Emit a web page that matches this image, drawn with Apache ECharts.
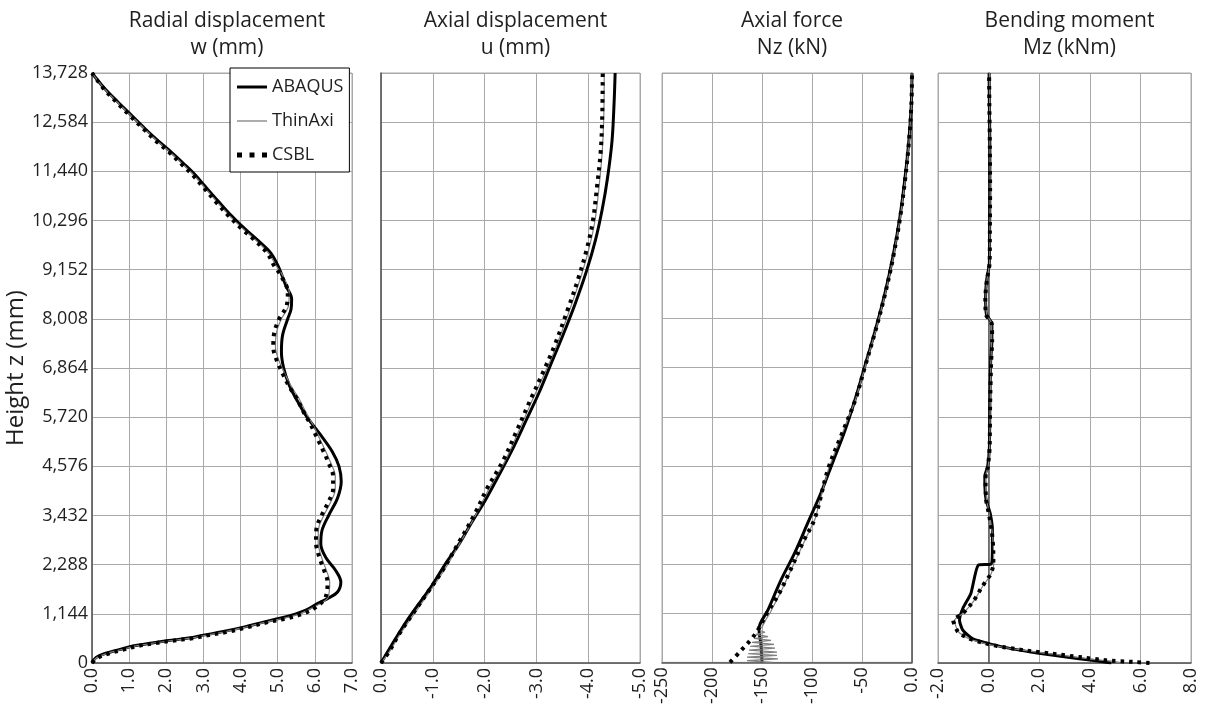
<!DOCTYPE html>
<html>
<head>
<meta charset="utf-8">
<script src="https://cdn.jsdelivr.net/npm/echarts@6/dist/echarts.min.js"></script>
<style>
html,body{margin:0;padding:0;background:#fff;}
#chart{width:1211px;height:707px;}
</style>
</head>
<body>
<div id="chart"></div>
<script>
// ---------- DATA (value, height z in mm) ----------
const seriesNames = ['ABAQUS', 'ThinAxi', 'CSBL'];
const panelTitles = ['Radial displacement\nw (mm)', 'Axial displacement\nu (mm)', 'Axial force\nNz (kN)', 'Bending moment\nMz (kNm)'];
const zTickStep = 1144;
const zMax = 13728;

// Radial displacement w (mm)
const wAbaqus = [[0,0],[0.11,130],[0.37,226],[0.73,311],[1.1,395],[1.62,467],[2.06,521],[2.6,580],[3.04,654],[3.5,725],[4.11,840],[4.64,957],[5.06,1040],[5.49,1144],[5.76,1229],[6.07,1383],[6.34,1498],[6.61,1652],[6.70,1884],[6.56,2153],[6.29,2461],[6.16,2768],[6.19,3077],[6.37,3432],[6.61,3836],[6.71,4221],[6.65,4576],[6.47,4917],[6.16,5302],[5.79,5720],[5.54,6082],[5.31,6467],[5.16,6864],[5.10,7238],[5.13,7623],[5.27,8008],[5.36,8239],[5.375,8470],[5.22,8778],[5.03,9200],[4.82,9533],[4.46,9838],[4.11,10106],[3.75,10411],[3.39,10754],[3.04,11097],[2.77,11364],[2.5,11593],[2.14,11882],[1.79,12142],[1.43,12431],[1.07,12737],[0.71,13042],[0.36,13347],[0,13728]];
const wThinAxi = [[0,0],[0.13,125],[0.41,223],[0.78,308],[1.15,392],[1.67,465],[2.1,518],[2.65,578],[3.1,651],[3.56,722],[4.15,838],[4.69,953],[5.13,1035],[5.6,1144],[5.98,1306],[6.36,1537],[6.40,1884],[6.31,2153],[6.18,2461],[6.09,2808],[6.1,3116],[6.24,3432],[6.44,3770],[6.55,4040],[6.55,4348],[6.43,4653],[6.27,4965],[6.1,5273],[5.95,5543],[5.75,5851],[5.57,6159],[5.37,6430],[5.19,6738],[5.03,7046],[4.94,7353],[4.97,7700],[5.1,8008],[5.29,8316],[5.31,8624],[5.14,9010],[4.95,9250],[4.76,9533],[4.41,9838],[4.06,10106],[3.7,10411],[3.34,10754],[3.0,11097],[2.73,11364],[2.46,11593],[2.11,11882],[1.76,12142],[1.41,12431],[1.05,12737],[0.69,13042],[0.35,13347],[0,13728]];
const wCsbl = [[0,0],[0.15,120],[0.45,220],[0.82,305],[1.2,390],[1.72,462],[2.15,516],[2.7,575],[3.15,648],[3.62,720],[4.2,835],[4.73,950],[5.2,1030],[5.67,1144],[6.04,1306],[6.29,1537],[6.34,1884],[6.25,2153],[6.12,2461],[6.03,2808],[6.04,3116],[6.18,3432],[6.38,3770],[6.49,4040],[6.49,4348],[6.37,4653],[6.21,4965],[6.04,5273],[5.89,5543],[5.69,5851],[5.51,6159],[5.31,6430],[5.13,6738],[4.97,7046],[4.88,7353],[4.91,7700],[5.04,8008],[5.24,8316],[5.27,8624],[5.09,9010],[4.9,9250],[4.72,9533],[4.38,9838],[4.03,10106],[3.67,10411],[3.31,10754],[2.97,11097],[2.7,11364],[2.43,11593],[2.08,11882],[1.73,12142],[1.38,12431],[1.02,12737],[0.67,13042],[0.33,13347],[0,13728]];

// Axial displacement u (mm)
const uAbaqus = [[0,0],[-0.30,604],[-0.56,1092],[-0.96,1759],[-1.26,2336],[-1.49,2736],[-1.75,3269],[-2.02,3801],[-2.28,4379],[-2.55,5001],[-2.81,5667],[-3.05,6288],[-3.28,6955],[-3.51,7620],[-3.74,8331],[-3.97,9130],[-4.14,9841],[-4.27,10552],[-4.37,11262],[-4.46,12150],[-4.50,13038],[-4.52,13728]];
const uThinAxi = [[0,0],[-0.18,293],[-0.38,693],[-0.69,1226],[-0.92,1625],[-1.22,2158],[-1.52,2780],[-1.85,3491],[-2.09,4068],[-2.39,4690],[-2.66,5401],[-2.92,6111],[-3.19,6822],[-3.38,7355],[-3.65,8242],[-3.85,8953],[-4.01,9619],[-4.13,10285],[-4.21,11085],[-4.27,11884],[-4.30,12683],[-4.31,13728]];
const uCsbl = [[0,0],[-0.17,293],[-0.36,693],[-0.66,1226],[-0.89,1625],[-1.19,2158],[-1.49,2780],[-1.82,3491],[-2.05,4068],[-2.35,4690],[-2.62,5401],[-2.88,6111],[-3.15,6822],[-3.34,7355],[-3.61,8242],[-3.81,8953],[-3.97,9619],[-4.09,10285],[-4.17,11085],[-4.24,11884],[-4.27,12683],[-4.28,13728]];

// Axial force Nz (kN)
const nAbaqus = [[-150,0],[-151,400],[-153,779],[-144,1222],[-130.7,1930],[-117.3,2550],[-104,3258],[-90.7,3967],[-79,4675],[-67.3,5383],[-57.3,6092],[-47.3,6889],[-37.3,7686],[-27.3,8571],[-19,9457],[-12.3,10342],[-7.3,11227],[-3.3,12113],[-0.7,12998],[0,13728]];
const nThinAxi = [[-140,0],[-165,40],[-134,80],[-165,120],[-135,160],[-164,200],[-135,240],[-163,285],[-137,330],[-162,375],[-138,420],[-160,465],[-141,510],[-158,555],[-144,600],[-156,650],[-147,700],[-154,760],[-150,820],[-146,1000],[-142,1150],[-132,1600],[-120,2196],[-108,2800],[-96.8,3347],[-83.6,4498],[-70.2,5300],[-56.8,6092],[-46.8,6889],[-36.8,7686],[-26.8,8571],[-18.5,9457],[-11.9,10342],[-6.9,11227],[-3.0,12113],[-0.5,12998],[0,13728]];
const nCsbl = [[-182,0],[-170,300],[-160,560],[-153,800],[-145,1150],[-133,1600],[-120.7,2196],[-109,2800],[-97.3,3347],[-84,4498],[-70.5,5300],[-57,6092],[-47,6889],[-37,7686],[-27,8571],[-18.7,9457],[-12,10342],[-7,11227],[-3.1,12113],[-0.6,12998],[0,13728]];

// Bending moment Mz (kNm)
const mAbaqus = [[4.85,0],[4.09,62],[3.07,140],[1.92,233],[0.89,335],[0,451],[-0.64,568],[-1.02,763],[-1.15,996],[-1.02,1268],[-0.7,1619],[-0.4,2280],[0.1,2300],[0.15,2708],[0.15,3098],[0.06,3487],[-0.10,3798],[-0.15,4265],[-0.13,4400],[-0.04,4561],[0.03,5000],[0.05,6000],[0.08,7000],[0.13,7500],[0.13,7900],[-0.08,8100],[-0.12,8500],[-0.08,8900],[0.03,9300],[0.04,10000],[0.05,11000],[0.05,12000],[0.03,13000],[0.02,13728]];
const mThinAxi = [[5.3,0],[4.9,40],[4.2,80],[3.3,150],[2.3,225],[1.3,300],[0.3,395],[-0.25,470],[-0.8,570],[-1.2,730],[-1.35,990],[-1.0,1160],[-0.55,1470],[-0.24,1780],[0.08,2050],[0.2,2288],[0.19,2700],[0.13,3100],[0.02,3500],[-0.08,3800],[-0.12,4265],[-0.1,4400],[-0.02,4561],[0.04,5000],[0.06,6000],[0.09,7000],[0.12,7500],[0.12,7900],[-0.07,8100],[-0.11,8500],[-0.07,8900],[0.04,9300],[0.05,10000],[0.06,11000],[0.05,12000],[0.04,13000],[0.03,13728]];
const mCsbl = [[6.36,0],[5.81,23],[4.66,62],[3.58,140],[2.49,218],[1.40,296],[0.32,397],[-0.19,467],[-0.77,568],[-1.21,724],[-1.40,996],[-1.02,1152],[-0.57,1463],[-0.26,1774],[0.06,2047],[0.19,2288],[0.18,2700],[0.12,3100],[0.0,3500],[-0.1,3800],[-0.12,4265],[-0.11,4400],[-0.03,4561],[0.04,5000],[0.06,6000],[0.1,7000],[0.14,7500],[0.12,7900],[-0.1,8100],[-0.13,8500],[-0.07,8900],[0.04,9300],[0.05,10000],[0.06,11000],[0.05,12000],[0.03,13000],[0.02,13728]];

// x-axis ranges per panel
const xRanges = [
  {min: 0, max: 7, interval: 1, inverse: false},
  {min: -5, max: 0, interval: 1, inverse: true},
  {min: -250, max: 0, interval: 50, inverse: false},
  {min: -2, max: 8, interval: 2, inverse: false}
];
const panelData = [
  [wAbaqus, wThinAxi, wCsbl],
  [uAbaqus, uThinAxi, uCsbl],
  [nAbaqus, nThinAxi, nCsbl],
  [mAbaqus, mThinAxi, mCsbl]
];

// ---------- LAYOUT / STYLE ----------
const FONT = 'Open Sans';
const TXT = '#1f1f1f';
const GRIDC = '#a9a9a9';
const AXC = '#555555';
const gridBoxes = [
  {left: 92, width: 260},
  {left: 381, width: 259},
  {left: 662, width: 250},
  {left: 938, width: 253}
];
const TOP = 73, HEIGHT = 590;

const xFormatters = [
  v => v.toFixed(1),
  v => v.toFixed(1),
  v => (v === 0 ? '0.0' : String(v)),
  v => v.toFixed(1)
];

const grids = gridBoxes.map(b => ({
  left: b.left, top: TOP, width: b.width, height: HEIGHT,
  show: true, borderColor: GRIDC, borderWidth: 1, backgroundColor: 'transparent'
}));

const xAxes = xRanges.map((r, i) => ({
  type: 'value', gridIndex: i, min: r.min, max: r.max, interval: r.interval, inverse: r.inverse,
  axisLine: {show: true, onZero: true, lineStyle: {color: AXC, width: 1.5}},
  axisTick: {show: false},
  splitLine: {show: true, lineStyle: {color: GRIDC, width: 1}},
  axisLabel: {rotate: 90, margin: 5, fontSize: 18, fontFamily: FONT, color: TXT, formatter: xFormatters[i]}
}));

const yAxes = gridBoxes.map((b, i) => ({
  type: 'value', gridIndex: i, min: 0, max: zMax, interval: zTickStep,
  axisLine: {show: true, onZero: true, lineStyle: {color: AXC, width: 1.5}},
  axisTick: {show: false},
  splitLine: {show: true, lineStyle: {color: GRIDC, width: 1}},
  axisLabel: i === 0 ? {show: true, margin: 4, fontSize: 18, fontFamily: FONT, color: TXT,
    formatter: v => Math.round(v).toLocaleString('en-US')} : {show: false},
  name: i === 0 ? 'Height z (mm)' : '',
  nameLocation: 'middle', nameGap: 52, nameRotate: 90,
  nameTextStyle: {fontSize: 24, fontFamily: FONT, color: TXT}
}));

const styles = [
  {color: '#000', lineStyle: {color: '#000', width: 3, type: 'solid'}},
  {color: '#808080', lineStyle: {color: '#808080', width: 1.2, type: 'solid'}},
  {color: '#000', lineStyle: {color: '#000', width: 4, type: [3.5, 5], cap: 'butt'}}
];

const legendIcons = [
  'path://M0,0H30V3H0Z',
  'path://M0,0H30V1.3H0Z',
  'path://M0,0h5v5h-5zM12.5,0h5v5h-5zM25,0h5v5h-5z'
];

const series = [];
panelData.forEach((sets, p) => {
  sets.forEach((d, k) => {
    const noSmooth = (p === 2 && k === 1) || (p === 3);
    series.push({
      type: 'line', name: seriesNames[k], xAxisIndex: p, yAxisIndex: p,
      data: d, showSymbol: false, symbol: 'none',
      smooth: noSmooth ? (p === 3 ? 0.2 : false) : 0.35,
      color: styles[k].color,
      lineStyle: styles[k].lineStyle,
      z: 2 + k, silent: true
    });
  });
});

const titles = panelTitles.map((t, i) => ({
  text: t,
  left: gridBoxes[i].left + gridBoxes[i].width / 2,
  top: 3, textAlign: 'center',
  textStyle: {fontSize: 21, fontWeight: 'normal', fontFamily: FONT, color: TXT, lineHeight: 27}
}));

const option = {
  animation: false,
  backgroundColor: '#fff',
  title: titles,
  grid: grids,
  xAxis: xAxes,
  yAxis: yAxes,
  legend: {
    data: seriesNames.map((n, k) => ({name: n, icon: legendIcons[k]})),
    orient: 'vertical', left: 230, top: 68,
    selectedMode: false, symbolKeepAspect: true,
    backgroundColor: '#fff', borderColor: '#000', borderWidth: 1, borderRadius: 0,
    padding: [10, 6, 8, 7], itemGap: 16, itemWidth: 30, itemHeight: 14,
    itemStyle: {borderWidth: 0},
    textStyle: {fontSize: 18, fontFamily: FONT, color: TXT}
  },
  series: series
};

const chart = echarts.init(document.getElementById('chart'), null, {renderer: 'canvas'});
chart.setOption(option);
</script>
</body>
</html>
